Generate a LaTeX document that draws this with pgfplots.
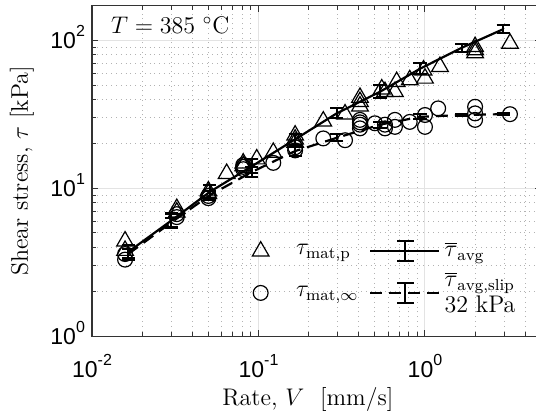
\documentclass[border=0pt]{standalone}
\usepackage{fontspec}
\usepackage{pgfplots}
\pgfplotsset{compat=1.18}
\newfontfamily\tickfont{Liberation Sans}
\newcommand{\tl}[1]{{\tickfont\fontsize{11.5}{12}\selectfont 10\raisebox{0.52em}{\fontsize{8}{8}\selectfont #1}}}
\begin{document}
\begin{tikzpicture}
\begin{axis}[
  scale only axis, width=224.5pt, height=165.1pt,
  xmode=log, ymode=log,
  xmin=0.01, xmax=5, ymin=1, ymax=172,
  xtick={0.01,0.1,1}, xticklabels={\tl{-2},\tl{-1},\tl{0}},
  ytick={1,10,100}, yticklabels={\tl{0},\tl{1},\tl{2}},
  minor xtick={0.02,0.03,0.04,0.05,0.06,0.07,0.08,0.09,0.2,0.3,0.4,0.5,0.6,0.7,0.8,0.9,2,3,4},
  minor ytick={2,3,4,5,6,7,8,9,20,30,40,50,60,70,80,90},
  xticklabel style={anchor=base, yshift=-20.5pt},
  yticklabel style={anchor=base east, yshift=-4pt},
  grid=both,
  major grid style={gray!22, line width=0.5pt},
  minor grid style={gray!60, dotted, line width=0.5pt},
  tick align=inside,
  major tick length=3pt, minor tick length=2pt,
  axis line style={black!80, line width=0.6pt},
  every tick/.style={black!80, line width=0.5pt},
  label style={font=\fontsize{12}{14}\selectfont},
  xlabel={Rate, $V$\ \ [mm/s]},
  ylabel={Shear stress, $\tau$ [kPa]},
  xlabel style={at={(axis description cs:0.4804,-0.191)}, anchor=center},
  ylabel style={at={(axis description cs:-0.156,0.5)}, anchor=center},
  legend columns=2, legend cell align=left,
  legend style={draw=none, fill=none, inner sep=0pt,
    at={(axis description cs:0.356,0.297)}, anchor=north west,
    font=\fontsize{12}{13}\selectfont, row sep=9pt,
    /tikz/column 1/.style={column sep=11.5pt},
    /tikz/every even column/.append style={column sep=3.5pt}},
]
% triangles
\addplot[only marks, mark=triangle, mark size=4.8pt, mark options={line width=0.6pt, black},
  legend image code/.code={\draw plot coordinates {(0pt,0pt)};}]
table {
x y
0.0158 4.4
0.0158 3.8
0.0323 7.3
0.0323 6.9
0.050 9.2
0.050 9.6
0.0644 12.6
0.081 14.8
0.081 14.2
0.0976 15.8
0.1227 17.5
0.166 22.9
0.166 21.5
0.166 20.5
0.245 28.5
0.331 31.8
0.407 41.2
0.407 38.6
0.407 36.0
0.55 47.0
0.575 45.1
0.676 52.7
0.66 45.1
0.81 54.2
0.98 63.1
1.0 55.6
1.23 66.7
2.0 90.9
2.0 86.6
2.0 82.6
3.24 95.7
};
\addlegendentry{$\tau_{\mathrm{mat,p}}$}
% solid average
\addplot[black, line width=1.1pt, mark=none,
  error bars/.cd, y dir=both, y explicit,
  error bar style={line width=1pt, solid},
  error mark options={rotate=90, mark size=3.3pt, line width=1pt, solid}]
table[x=x, y=y, y error plus=ep, y error minus=em] {
x y ep em
0.0165 3.72 0.41 0.35
0.030 6.07 0.70 0.66
0.051 9.48 1.05 0.92
0.091 14.1 1.6 1.4
0.166 21.5 2.0 1.8
0.295 32.2 2.6 2.4
0.537 45.1 4.9 4.4
0.933 64.5 5.7 5.1
1.66 89.4 5.4 5.3
2.95 119.5 8.0 7.5
};
\addlegendentry{$\overline{\tau}_{\mathrm{avg}}$}
\pgfplotsset{legend image code/.code={\draw[line width=1.1pt] (0pt,0pt)--(34.5pt,0pt); \draw[line width=1pt, solid] (17.5pt,-5pt)--(17.5pt,5pt) (13.3pt,-5pt)--(21.7pt,-5pt) (13.3pt,5pt)--(21.7pt,5pt);}}
% circles
\addplot[only marks, mark=o, mark size=3.7pt, mark options={line width=0.6pt, black},
  legend image code/.code={\draw plot coordinates {(0pt,0pt)};}]
table {
x y
0.0158 3.3
0.0158 3.6
0.0323 6.7
0.0323 6.4
0.050 8.6
0.050 8.9
0.081 14.0
0.081 13.5
0.081 14.4
0.1227 14.9
0.166 19.0
0.166 18.1
0.245 21.8
0.331 21.2
0.407 29.1
0.407 28.0
0.407 27.0
0.407 25.5
0.50 27.6
0.575 25.5
0.575 27.0
0.66 29.1
0.66 26.1
0.81 28.2
1.0 31.4
1.0 26.1
1.2 34.8
2.0 35.7
2.0 32.2
2.0 29.1
3.24 31.8
};
\addlegendentry{$\tau_{\mathrm{mat},\infty}$}
% dashed slip average
\addplot[black, line width=1.1pt, mark=none, dash pattern=on 6pt off 3.5pt,
  error bars/.cd, y dir=both, y explicit,
  error bar style={line width=1pt, solid},
  error mark options={rotate=90, mark size=3.3pt, line width=1pt, solid}]
table[x=x, y=y, y error plus=ep, y error minus=em] {
x y ep em
0.0165 3.6 0.3 0.3
0.030 5.9 0.4 0.4
0.051 9.0 0.6 0.6
0.091 12.9 1.0 0.9
0.166 17.9 1.3 1.2
0.295 22.0 1.2 1.1
0.537 27.0 1.3 1.2
0.933 30.5 1.2 1.1
1.66 31.4 0.5 0.5
2.95 31.8 0.5 0.5
};
\addlegendentry{\smash{\raisebox{-10.5pt}{\begin{tabular}[b]{@{}l@{}}$\overline{\tau}_{\mathrm{avg,slip}}$\\32 kPa\end{tabular}}}}
\node[anchor=west, font=\fontsize{12}{14}\selectfont] at (axis description cs:0.027,0.942) {$T = 385\ ^{\circ}\mathrm{C}$};
\coordinate (bbsw) at (axis cs:0.002802,0.2742);
\coordinate (bbne) at (axis cs:4.642,188.3);
\end{axis}
\pgfresetboundingbox
\path[use as bounding box] (bbsw) rectangle (bbne);
\end{tikzpicture}
\end{document}
